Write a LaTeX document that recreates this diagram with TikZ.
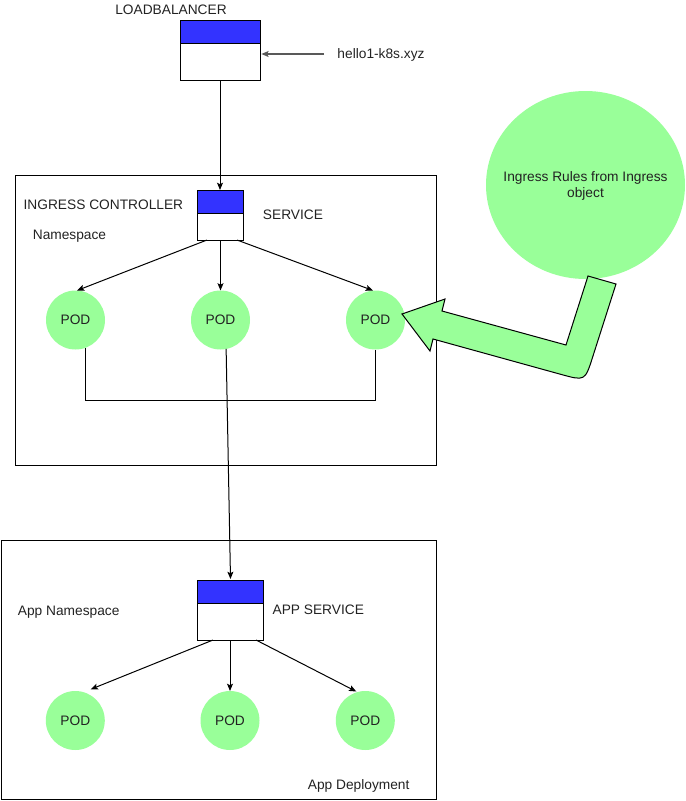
\documentclass[tikz,border=0pt]{standalone}
\usepackage{fontspec}
\setmainfont{Liberation Sans}
\usetikzlibrary{arrows.meta,calc}
\definecolor{podgreen}{HTML}{99FF99}
\definecolor{hdrblue}{HTML}{3333FF}
\definecolor{txt}{HTML}{222222}
\begin{document}
\begin{tikzpicture}[x=0.75pt,y=-0.75pt,line width=0.75pt,
  lbl/.style={inner sep=0pt,outer sep=0pt,font=\fontsize{10.3}{12.5}\selectfont,text=txt,text height=7.4pt,text depth=0pt},
  svcbox/.style={draw,fill=white,inner sep=0pt,outer sep=0pt,
    path picture={\fill[hdrblue] (path picture bounding box.north west) rectangle ([yshift=-17.25pt]path picture bounding box.north east);
      \draw ([yshift=-17.25pt]path picture bounding box.north west) -- ([yshift=-17.25pt]path picture bounding box.north east);}},
  pod/.style={circle,fill=podgreen,minimum size=44.25pt,inner sep=0pt,outer sep=0pt,font=\fontsize{10.3}{12.5}\selectfont,text=txt},
  conn/.style={-{Stealth[length=5.5pt,width=4.5pt,inset=1.2pt]}},
  frame/.style={draw,line width=0.75pt}
]
\useasboundingbox (0,0) rectangle (686,801);

% containers
\draw[frame] (15,175) rectangle (436,465);
\draw[frame] (1.5,540) rectangle (436,799.5);

% load balancer
\node[lbl] (lbt) at (171,10) {LOADBALANCER};
\node[svcbox,minimum width=60pt,minimum height=45pt] (lb) at (220,50) {};
\node[lbl] (hello) at (381,54) {hello1-k8s.xyz};

% ingress controller
\node[svcbox,minimum width=34.5pt,minimum height=37.5pt] (svc1) at (220.5,215) {};
\node[lbl] (ict) at (103.4,205) {INGRESS CONTROLLER};
\node[lbl] (svct) at (293,215) {SERVICE};
\node[lbl] (nst) at (69.5,235) {Namespace};

\node[pod] (p1) at (75.5,320) {POD};
\node[pod] (p2) at (220.5,320) {POD};
\node[pod] (p3) at (375.5,320) {POD};

% app namespace
\node[svcbox,minimum width=49.5pt,minimum height=45pt] (svc2) at (230,610) {};
\node[lbl] (ans) at (68.7,610.5) {App Namespace};
\node[lbl] (ast) at (318.3,610) {APP SERVICE};
\node[lbl] (adt) at (358.7,785) {App Deployment};

\node[pod] (ap1) at (75.3,720.5) {POD};
\node[pod] (ap2) at (230,720.5) {POD};
\node[pod] (ap3) at (365.3,720.5) {POD};

% ingress rules
\fill[podgreen] (585.5,185) ellipse [x radius=99.5, y radius=94];
\node[inner sep=0pt,align=center,font=\fontsize{10.3}{12.5}\selectfont,text=txt] (rules) at (585.5,186) {Ingress Rules from Ingress\\object};

% big flex arrow from rules to pod 3
\draw[fill=podgreen,line width=0.75pt,line join=miter]
  (588,276) -- (566,345) -- (442,311) -- (445,299) -- (402,314) -- (430,351) -- (433,339)
  -- (561,374.4) .. controls (585,381) .. (592.6,357.2) -- (616,284) -- cycle;

% connectors
\draw[conn,draw=black!65,line width=0.9pt,shorten <=10pt,shorten >=1pt] (hello.west) -- (hello.west -| lb.east);
\draw[conn] (lb.south) -- (lb.south |- svc1.north);
\draw[conn] ($(svc1.south)+(-13.5,0)$) -- ($(p1.north)+(1.5,0)$);
\draw[conn] (svc1.south) -- (p2.north);
\draw[conn] ($(svc1.south)+(16.5,0)$) -- ($(p3.north)+(-2.5,0)$);
\draw (p1.-71) |- ($(p3.south)+(0,51)$) -- (p3.south);
\draw[conn] (p2.-79) -- ($(svc2.north)+(0.5,-1)$);
\draw[conn] ($(svc2.south)+(-17,0)$) -- ($(ap1.north)+(15.4,-1.7)$);
\draw[conn] (svc2.south) -- (ap2.north);
\draw[conn] ($(svc2.south)+(26,0)$) -- ($(ap3.north)+(-9,0.5)$);
\end{tikzpicture}
\end{document}
